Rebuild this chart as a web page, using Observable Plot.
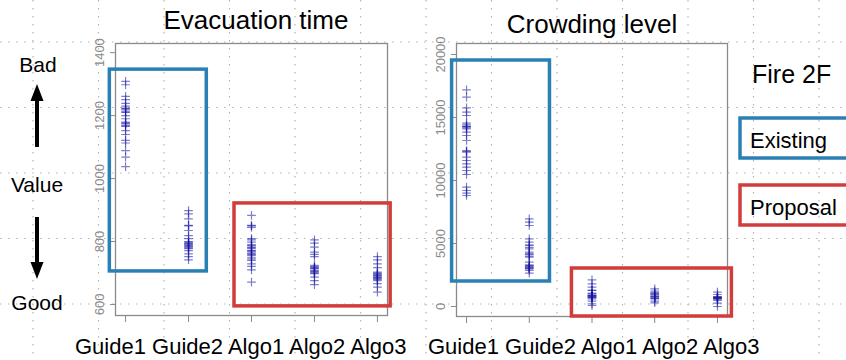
<!DOCTYPE html>
<html><head><meta charset="utf-8">
<script src="https://cdn.jsdelivr.net/npm/d3@7"></script>
<script src="https://cdn.jsdelivr.net/npm/@observablehq/plot@0.6"></script>
<style>
body{margin:0;background:#fff;font-family:"Liberation Sans",Arial,sans-serif;}
#wrap{position:relative;width:846px;height:360px;overflow:hidden;background:#fff;}
#wrap > *{position:absolute;left:0;top:0;}
</style></head><body>
<div id="wrap">
<svg id="bg" width="846" height="360"></svg>
<div id="left"></div>
<div id="right" style="left:420px"></div>
<svg id="fg" width="846" height="360" style="pointer-events:none"></svg>
</div>
<script>
// ---------- data ----------
const categories = ["Guide1", "Guide2", "Algo1", "Algo2", "Algo3"];
const evacTicks = [600, 800, 1000, 1200, 1400];
const crowdTicks = [0, 5000, 10000, 15000, 20000];

const evacGuide1 = [1309,1298,1261,1251,1239,1230,1224,1218,1210,1200,1190,1179,1174,1166,1152,1140,1121,1113,1089,1068,1038,1222,1212,1176,1168];
const evacGuide2 = [898,888,872,851,835,819,809,798,793,787,782,777,771,761,752,742,795,790,800,785,779,850];
const evacAlgo1  = [883,851,845,809,798,787,782,777,771,766,761,756,750,740,729,721,710,671,850,805,790,780,770,760,745];
const evacAlgo2  = [805,795,782,766,759,752,724,718,713,708,703,698,687,676,663,720,715,705,700];
const evacAlgo3  = [752,742,729,717,703,698,692,687,682,676,666,655,639,695,690,685,700,680];

const crowdGuide1 = [17198,16611,15770,15421,15159,14548,14421,14286,14103,13833,13571,13175,12381,12246,11849,11587,11325,11056,10794,10476,9468,9206,8992,8810,14300,14200,12300];
const crowdGuide2 = [6960,6690,6429,5373,5103,4841,4579,4310,4127,3913,3516,3254,3119,2992,2857,2643,4900,4700,4200,4000,3300,3200,3100,3000];
const crowdAlgo1  = [2119,1802,1532,1270,1056,873,738,611,421,214,79,900,850,800,750,700,1300,1000];
const crowdAlgo2  = [1405,1214,1008,794,611,421,294,1100,1000,900,800,700,650];
const crowdAlgo3  = [1135,952,794,690,579,476,262,0,750,700,650,600,720];

// highlight boxes (category-index / value units)
const evacExistingBox = [{x1: 0.75, x2: 2.29, y1: 705, y2: 1346}];
const evacProposalBox = [{x1: 2.73, x2: 5.21, y1: 594, y2: 921}];
const crowdExistingBox = [{x1: 0.77, x2: 2.33, y1: 1984, y2: 19524}];
const crowdProposalBox = [{x1: 2.68, x2: 5.23, y1: -794, y2: 3016}];

const blue = "#2a80b5", red = "#d23c3c";

function rowsOf(series) {
  return categories.flatMap((c, i) => series[i].map(v => ({x: i + 1, cat: c, v})));
}

function panel({rows, yDomain, yTicks, existing, proposal, width, mL, mR, mB}) {
  return Plot.plot({
    width, height: 360,
    marginLeft: mL, marginRight: mR, marginTop: 43, marginBottom: mB,
    style: {background: "transparent", overflow: "visible", fontFamily: "Liberation Sans, Arial, sans-serif"},
    x: {domain: [0.84, 5.16]},
    y: {domain: yDomain},
    marks: [
      Plot.frame({stroke: "#8a8a8a", strokeWidth: 1.3}),
      Plot.axisY({ticks: yTicks, tickRotate: -90, tickSize: 5, tickPadding: 7, fontSize: 13,
                  color: "#8a8a8a", tickFormat: d3.format("d"), label: null}),
      Plot.axisX({ticks: [1, 2, 3, 4, 5], tickSize: 7, tickFormat: () => "", color: "#8a8a8a", label: null}),
      Plot.dot(rows, {x: "x", y: "v", symbol: "plus", r: 2.9, stroke: "#1414a0",
                      strokeOpacity: 0.55, strokeWidth: 1.2}),
      Plot.rect(existing, {x1: "x1", x2: "x2", y1: "y1", y2: "y2", stroke: blue, fill: "none", strokeWidth: 3.5}),
      Plot.rect(proposal, {x1: "x1", x2: "x2", y1: "y1", y2: "y2", stroke: red, fill: "none", strokeWidth: 3.5})
    ]
  });
}

document.getElementById("left").append(panel({
  rows: rowsOf([evacGuide1, evacGuide2, evacAlgo1, evacAlgo2, evacAlgo3]),
  yDomain: [565, 1429], yTicks: evacTicks,
  existing: evacExistingBox, proposal: evacProposalBox,
  width: 420, mL: 115, mR: 33, mB: 45
}));
document.getElementById("right").append(panel({
  rows: rowsOf([crowdGuide1, crowdGuide2, crowdAlgo1, crowdAlgo2, crowdAlgo3]),
  yDomain: [-794, 20873], yTicks: crowdTicks,
  existing: crowdExistingBox, proposal: crowdProposalBox,
  width: 426, mL: 36, mR: 119, mB: 44
}));

// ---------- slide decoration ----------
const NS = "http://www.w3.org/2000/svg";
function el(parent, tag, attrs, text) {
  const e = document.createElementNS(NS, tag);
  for (const k in attrs) e.setAttribute(k, attrs[k]);
  if (text != null) e.textContent = text;
  parent.append(e);
  return e;
}
const bg = document.getElementById("bg");
for (let i = 0; i < 5; i++) {
  const y = 42 + i * 65.5;
  el(bg, "line", {x1: 0, x2: 846, y1: y, y2: y, stroke: "#b5b5b5", "stroke-width": 1.2, "stroke-dasharray": "1.5 6.5"});
}
for (let i = 0; i < 13; i++) {
  const x = 33 + i * 65.5;
  el(bg, "line", {x1: x, x2: x, y1: 0, y2: 360, stroke: "#b5b5b5", "stroke-width": 1.2, "stroke-dasharray": "1.5 6.5"});
}

const fg = document.getElementById("fg");
const font = "Liberation Sans, Arial, sans-serif";
el(fg, "text", {x: 256, y: 29, "text-anchor": "middle", "font-size": 26, "font-family": font}, "Evacuation time");
el(fg, "text", {x: 592, y: 33, "text-anchor": "middle", "font-size": 26, "font-family": font}, "Crowding level");
el(fg, "text", {x: 38, y: 72, "text-anchor": "middle", "font-size": 21, "font-family": font}, "Bad");
el(fg, "text", {x: 37, y: 192, "text-anchor": "middle", "font-size": 21, "font-family": font}, "Value");
el(fg, "text", {x: 37, y: 310, "text-anchor": "middle", "font-size": 21, "font-family": font}, "Good");
// arrows
el(fg, "line", {x1: 37, x2: 37, y1: 147, y2: 98, stroke: "#000", "stroke-width": 4});
el(fg, "polygon", {points: "37,84 30.5,101 43.5,101", fill: "#000"});
el(fg, "line", {x1: 37, x2: 37, y1: 217, y2: 265, stroke: "#000", "stroke-width": 4});
el(fg, "polygon", {points: "37,279 30.5,262 43.5,262", fill: "#000"});
// legend
el(fg, "text", {x: 752, y: 83, "font-size": 25, "font-family": font}, "Fire 2F");
el(fg, "rect", {x: 740, y: 118, width: 120, height: 40, fill: "none", stroke: blue, "stroke-width": 3.5});
el(fg, "text", {x: 750, y: 148, "font-size": 22, "font-family": font}, "Existing");
el(fg, "rect", {x: 740, y: 185, width: 120, height: 40, fill: "none", stroke: red, "stroke-width": 3.5});
el(fg, "text", {x: 750, y: 215, "font-size": 22, "font-family": font}, "Proposal");
// category labels under each panel
el(fg, "text", {x: 75, y: 354, "font-size": 22, "font-family": font, "xml:space": "preserve"}, categories.join(" "));
el(fg, "text", {x: 428, y: 354, "font-size": 22, "font-family": font, "xml:space": "preserve"}, categories.join(" "));
</script>
</body></html>
